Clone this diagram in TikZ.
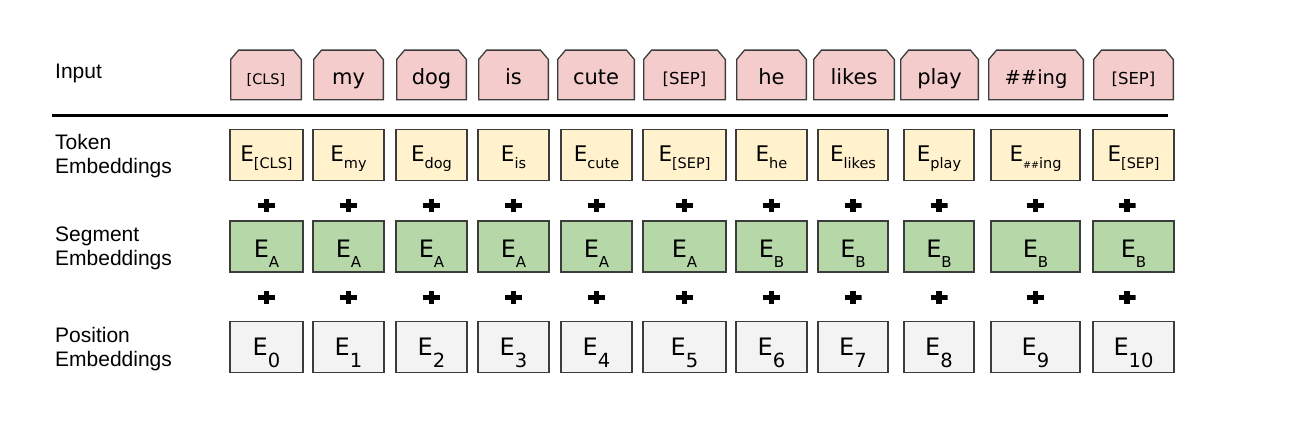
\documentclass[tikz,border=0pt]{standalone}
\usepackage{fontspec}
\setmainfont{Liberation Sans}
\newfontfamily\vfont{DejaVu Sans}
\usepackage{tikz}

\definecolor{inred}{HTML}{F4CCCC}
\definecolor{tokyel}{HTML}{FFF2CC}
\definecolor{seggrn}{HTML}{B6D7A8}
\definecolor{posgry}{HTML}{F3F3F3}
\definecolor{bordgry}{HTML}{3C3C3C}

% subscripts of the three embedding rows
\newcommand{\tsub}[1]{\raisebox{-6pt}{\fontsize{14.5}{14.5}\selectfont #1}}
\newcommand{\ssub}[1]{\raisebox{-10pt}{\fontsize{15}{15}\selectfont #1}}
\newcommand{\psub}[1]{\raisebox{-12pt}{\fontsize{19.5}{19.5}\selectfont #1}}

\begin{document}
\begin{tikzpicture}[x=1pt, y=-1pt,
  lbl/.style={align=left, anchor=west, inner sep=0pt, font=\fontsize{21}{24}\selectfont},
  inbox/.style={minimum height=51pt, inner sep=0pt, text height=19pt, text depth=0pt,
    font=\vfont\fontsize{21}{21}\selectfont,
    path picture={
      \filldraw[fill=inred, draw=bordgry, line width=1.3pt]
        ([shift={(0.65pt,0.65pt)}]path picture bounding box.south west) --
        ([shift={(0.65pt,-10pt)}]path picture bounding box.north west) --
        ([shift={(8.5pt,-0.65pt)}]path picture bounding box.north west) --
        ([shift={(-8.5pt,-0.65pt)}]path picture bounding box.north east) --
        ([shift={(-0.65pt,-10pt)}]path picture bounding box.north east) --
        ([shift={(-0.65pt,0.65pt)}]path picture bounding box.south east) -- cycle;
    }},
  emb/.style={draw=bordgry, line width=1.3pt, minimum height=51pt, inner sep=0pt, text depth=0pt},
  tokbox/.style={emb, fill=tokyel, text height=14pt, font=\vfont\fontsize{21.5}{21.5}\selectfont},
  segbox/.style={emb, fill=seggrn, text height=21pt, font=\vfont\fontsize{24}{24}\selectfont},
  posbox/.style={emb, fill=posgry, text height=16pt, font=\vfont\fontsize{24}{24}\selectfont},
  plus/.style={minimum width=17pt, minimum height=13pt, inner sep=0pt,
    path picture={
      \fill ([yshift=-2.5pt]path picture bounding box.west) rectangle ([yshift=2.5pt]path picture bounding box.east);
      \fill ([xshift=-2.8pt]path picture bounding box.south) rectangle ([xshift=2.8pt]path picture bounding box.north);
    }}]
  \useasboundingbox (0,0) rectangle (1292,422);

  % row labels
  \node[lbl] (linput) at (55,73.5) {Input};
  \node[lbl] (ltok) at (55,156.5) {Token\\Embeddings};
  \node[lbl] (lseg) at (55,248.5) {Segment\\Embeddings};
  \node[lbl] (lpos) at (55,349.5) {Position\\Embeddings};

  % input tokens
  \node[inbox, minimum width=72pt] (in1) at (266,75) {\fontsize{14.5}{14.5}\selectfont [CLS]};
  \node[inbox, minimum width=71pt] (in2) at (348.5,75) {my};
  \node[inbox, minimum width=71pt] (in3) at (431.5,75) {dog};
  \node[inbox, minimum width=71pt] (in4) at (513.5,75) {is};
  \node[inbox, minimum width=78pt] (in5) at (596,75) {cute};
  \node[inbox, minimum width=83pt] (in6) at (684.5,75) {\fontsize{16.5}{16.5}\selectfont [SEP]};
  \node[inbox, minimum width=71pt] (in7) at (771.5,75) {he};
  \node[inbox, minimum width=82pt] (in8) at (854,75) {likes};
  \node[inbox, minimum width=79pt] (in9) at (939.5,75) {play};
  \node[inbox, minimum width=96pt] (in10) at (1036,75) {\fontsize{19.5}{19.5}\selectfont \#\#ing};
  \node[inbox, minimum width=81pt] (in11) at (1133.5,75) {\fontsize{16.5}{16.5}\selectfont [SEP]};

  \draw[line width=3pt] (52,116) -- (1168,116);

  % token embeddings
  \node[tokbox, minimum width=73pt] (t1) at (266.5,155) {E\tsub{[CLS]}};
  \node[tokbox, minimum width=71pt] (t2) at (348.5,155) {E\tsub{my}};
  \node[tokbox, minimum width=71pt] (t3) at (431.5,155) {E\tsub{dog}};
  \node[tokbox, minimum width=71pt] (t4) at (513.5,155) {E\tsub{is}};
  \node[tokbox, minimum width=71pt] (t5) at (596.5,155) {E\tsub{cute}};
  \node[tokbox, minimum width=83pt] (t6) at (684.5,155) {E\tsub{[SEP]}};
  \node[tokbox, minimum width=71pt] (t7) at (771.5,155) {E\tsub{he}};
  \node[tokbox, minimum width=70pt] (t8) at (853,155) {E\tsub{likes}};
  \node[tokbox, minimum width=70pt] (t9) at (939,155) {E\tsub{play}};
  \node[tokbox, minimum width=89pt] (t10) at (1035.5,155) {E\tsub{{\fontsize{9.5}{9.5}\selectfont\#\#}ing}};
  \node[tokbox, minimum width=81pt] (t11) at (1133.5,155) {E\tsub{[SEP]}};

  \node[plus] (pa1) at (266.5,205.5) {};
  \node[plus] (pa2) at (348.5,205.5) {};
  \node[plus] (pa3) at (431.5,205.5) {};
  \node[plus] (pa4) at (513.5,205.5) {};
  \node[plus] (pa5) at (596.5,205.5) {};
  \node[plus] (pa6) at (684.5,205.5) {};
  \node[plus] (pa7) at (771.5,205.5) {};
  \node[plus] (pa8) at (853,205.5) {};
  \node[plus] (pa9) at (939,205.5) {};
  \node[plus] (pa10) at (1035.5,205.5) {};
  \node[plus] (pa11) at (1127,205.5) {};

  % segment embeddings
  \node[segbox, minimum width=73pt] (s1) at (266.5,246.5) {E\ssub{A}};
  \node[segbox, minimum width=71pt] (s2) at (348.5,246.5) {E\ssub{A}};
  \node[segbox, minimum width=71pt] (s3) at (431.5,246.5) {E\ssub{A}};
  \node[segbox, minimum width=71pt] (s4) at (513.5,246.5) {E\ssub{A}};
  \node[segbox, minimum width=71pt] (s5) at (596.5,246.5) {E\ssub{A}};
  \node[segbox, minimum width=83pt] (s6) at (684.5,246.5) {E\ssub{A}};
  \node[segbox, minimum width=71pt] (s7) at (771.5,246.5) {E\ssub{B}};
  \node[segbox, minimum width=70pt] (s8) at (853,246.5) {E\ssub{B}};
  \node[segbox, minimum width=70pt] (s9) at (939,246.5) {E\ssub{B}};
  \node[segbox, minimum width=89pt] (s10) at (1035.5,246.5) {E\ssub{B}};
  \node[segbox, minimum width=81pt] (s11) at (1133.5,246.5) {E\ssub{B}};

  \node[plus] (pb1) at (266.5,297) {};
  \node[plus] (pb2) at (348.5,297) {};
  \node[plus] (pb3) at (431.5,297) {};
  \node[plus] (pb4) at (513.5,297) {};
  \node[plus] (pb5) at (596.5,297) {};
  \node[plus] (pb6) at (684.5,297) {};
  \node[plus] (pb7) at (771.5,297) {};
  \node[plus] (pb8) at (853,297) {};
  \node[plus] (pb9) at (939,297) {};
  \node[plus] (pb10) at (1035.5,297) {};
  \node[plus] (pb11) at (1127,297) {};

  % position embeddings
  \node[posbox, minimum width=73pt] (p1) at (266.5,347) {E\psub{0}};
  \node[posbox, minimum width=71pt] (p2) at (348.5,347) {E\psub{1}};
  \node[posbox, minimum width=71pt] (p3) at (431.5,347) {E\psub{2}};
  \node[posbox, minimum width=71pt] (p4) at (513.5,347) {E\psub{3}};
  \node[posbox, minimum width=71pt] (p5) at (596.5,347) {E\psub{4}};
  \node[posbox, minimum width=83pt] (p6) at (684.5,347) {E\psub{5}};
  \node[posbox, minimum width=71pt] (p7) at (771.5,347) {E\psub{6}};
  \node[posbox, minimum width=70pt] (p8) at (853,347) {E\psub{7}};
  \node[posbox, minimum width=70pt] (p9) at (939,347) {E\psub{8}};
  \node[posbox, minimum width=89pt] (p10) at (1035.5,347) {E\psub{9}};
  \node[posbox, minimum width=81pt] (p11) at (1133.5,347) {E\psub{10}};
\end{tikzpicture}
\end{document}
